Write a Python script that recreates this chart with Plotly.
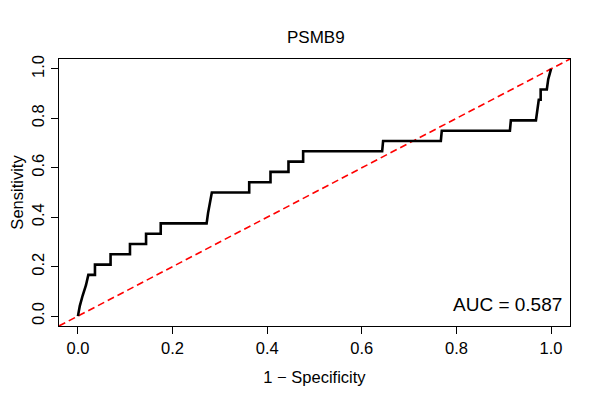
import plotly.graph_objects as go

# ROC curve vertices (1 - specificity, sensitivity), sensitivity in 24ths
fpr = [0.000, 0.004, 0.010, 0.017, 0.022, 0.036, 0.036, 0.069, 0.069, 0.110, 0.110,
       0.144, 0.144, 0.175, 0.175, 0.272, 0.275, 0.279, 0.283, 0.362, 0.362,
       0.407, 0.407, 0.445, 0.445, 0.476, 0.476, 0.643, 0.645, 0.767, 0.769,
       0.913, 0.915, 0.968, 0.971, 0.974, 0.978, 0.978, 0.991, 0.994, 1.000]
tpr_n = [0, 1, 2, 3, 4, 4, 5, 5, 6, 6, 7,
         7, 8, 8, 9, 9, 10, 11, 12, 12, 13,
         13, 14, 14, 15, 15, 16, 16, 17, 17, 18,
         18, 19, 19, 20, 21, 21, 22, 22, 23, 24]
tpr = [v / 24 for v in tpr_n]

diag = [-0.04, 1.04]
x_ticks = [0.0, 0.2, 0.4, 0.6, 0.8, 1.0]
y_ticks = [0.0, 0.2, 0.4, 0.6, 0.8, 1.0]
tick_text = ["0.0", "0.2", "0.4", "0.6", "0.8", "1.0"]
auc_label = "AUC = 0.587"
title_text = "PSMB9"

FONT = "Liberation Sans, Arial, Helvetica, sans-serif"

fig = go.Figure()
fig.add_trace(go.Scatter(x=diag, y=diag, mode="lines",
                         line=dict(color="#FF0000", width=1.6, dash="7px,4px"),
                         hoverinfo="skip", showlegend=False))
fig.add_trace(go.Scatter(x=fpr, y=tpr, mode="lines",
                         line=dict(color="black", width=2.6),
                         showlegend=False))

fig.add_annotation(x=1.028, y=0.048, xref="x", yref="y", text=auc_label,
                   showarrow=False, xanchor="right", yanchor="middle",
                   font=dict(size=19, color="black", family=FONT))

axis_common = dict(showgrid=False, zeroline=False, showline=True, mirror=True,
                   linecolor="black", linewidth=1, ticks="outside", ticklen=7,
                   tickcolor="black", tickwidth=1, automargin=False,
                   tickfont=dict(size=16.5, color="black", family=FONT))

fig.update_xaxes(range=diag, tickvals=x_ticks, ticktext=tick_text,
                 title=dict(text="1 − Specificity", standoff=15,
                            font=dict(size=16.5, color="black", family=FONT)),
                 **axis_common)
fig.update_yaxes(range=diag, tickvals=y_ticks, ticktext=tick_text, tickangle=-90,
                 title=dict(text="Sensitivity", standoff=8,
                            font=dict(size=16.5, color="black", family=FONT)),
                 **axis_common)

fig.update_layout(
    width=592, height=392,
    margin=dict(l=51, r=30, t=51, b=74, autoexpand=False),
    paper_bgcolor="white", plot_bgcolor="white",
    title=dict(text=title_text, x=0.52, xanchor="center", y=0.926, yanchor="middle",
               font=dict(size=17, color="black", family=FONT)),
    font=dict(family=FONT, color="black"),
)

fig.write_html("out.html")
